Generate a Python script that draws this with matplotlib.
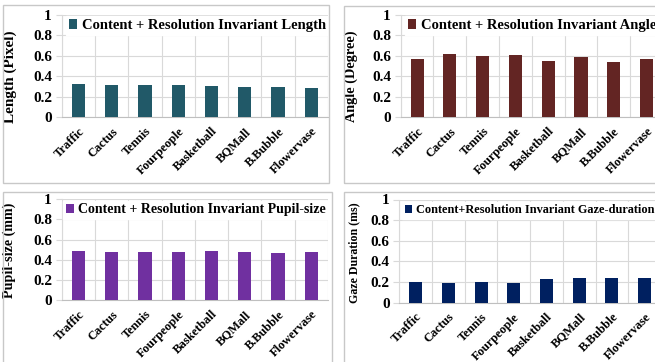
import matplotlib
matplotlib.use("Agg")
import matplotlib.pyplot as plt
from matplotlib.patches import Rectangle

videos = ["Traffic", "Cactus", "Tennis", "Fourpeople", "Basketball", "BQMall", "B.Bubble", "Flowervase"]
length_px = [0.323, 0.31, 0.317, 0.31, 0.304, 0.29, 0.29, 0.28]
angle_deg = [0.569, 0.614, 0.598, 0.605, 0.549, 0.591, 0.539, 0.572]
pupil_mm = [0.489, 0.48, 0.477, 0.48, 0.49, 0.48, 0.47, 0.477]
gaze_ms = [0.205, 0.195, 0.205, 0.195, 0.232, 0.238, 0.241, 0.241]

W, H = 655, 362
plt.rcParams["font.family"] = ["Liberation Serif", "DejaVu Serif"]
plt.rcParams["font.weight"] = "bold"
fig = plt.figure(figsize=(W / 100, H / 100), dpi=100)

def px_box(x0, y0, x1, y1):
    # pixel box (top-left origin) -> figure fraction rect
    return [x0 / W, 1 - y1 / H, (x1 - x0) / W, (y1 - y0) / H]

# panel borders
for x0, y0, x1, y1 in [(3, 5, 329, 183), (344, 6, 700, 183), (3, 192, 332, 400), (344, 192, 700, 400)]:
    fig.patches.append(Rectangle((x0 / W, 1 - y1 / H), (x1 - x0) / W, (y1 - y0) / H,
                                 transform=fig.transFigure, fill=False,
                                 edgecolor="#C8C8C8", lw=1.0))

# rect, values, colour, y label, legend, legend size, label size, label x, label y, legend x
panels = [
    (px_box(61.7, 15, 328, 117), length_px, "#215968", "Length (Pixel)",
     "Content + Resolution Invariant Length", 10.5, 11, -0.168, 0.39, 0.015),
    (px_box(400.7, 15, 663, 117), angle_deg, "#632523", "Angle (Degree)",
     "Content + Resolution Invariant Angle", 10.5, 10.3, -0.163, 0.40, 0.015),
    (px_box(61.7, 199.3, 328, 300), pupil_mm, "#7030A0", "Pupil-size (mm)",
     "Content + Resolution Invariant Pupil-size", 10.0, 10.2, -0.172, 0.49, 0.005),
    (px_box(399.3, 199.5, 661, 302.7), gaze_ms, "#002060", "Gaze Duration (ms)",
     "Content+Resolution Invariant Gaze-duration", 8.8, 8.6, -0.15, 0.48, 0.012),
]

grid_c = "#D9D9D9"
for rect, vals, color, ylab, leg, legfs, labfs, lab_x, lab_y, leg_x in panels:
    ax = fig.add_axes(rect)
    x = range(len(videos))
    ax.bar(x, vals, width=0.4, color=color, label=leg, zorder=3)
    ax.set_xlim(-0.5, len(videos) - 0.5)
    ax.set_ylim(0, 1)
    ax.set_yticks([0, 0.2, 0.4, 0.6, 0.8, 1])
    ax.set_yticklabels(["0", "0.2", "0.4", "0.6", "0.8", "1"], fontsize=11, fontweight="bold")
    ax.set_xticks(list(x))
    ax.set_xticklabels(videos, rotation=45, ha="right", va="top", rotation_mode="anchor",
                       fontsize=9, fontweight="bold")
    ax.set_xticks([i - 0.5 for i in range(len(videos) + 1)], minor=True)
    ax.grid(True, axis="y", color=grid_c, lw=0.8, zorder=0)
    ax.grid(True, axis="x", which="minor", color=grid_c, lw=0.8, zorder=0)
    ax.grid(False, axis="x", which="major")
    for s in ["top", "right"]:
        ax.spines[s].set_visible(False)
    ax.spines["left"].set_color(grid_c)
    ax.spines["bottom"].set_color("#BFBFBF")
    ax.tick_params(axis="y", length=4, color=grid_c, pad=3)
    ax.tick_params(axis="x", which="major", length=0, pad=6)
    ax.tick_params(axis="x", which="minor", length=0)
    ax.set_ylabel(ylab, fontsize=labfs, fontweight="bold")
    ax.yaxis.set_label_coords(lab_x, lab_y)
    lg = ax.legend(loc="center left", bbox_to_anchor=(leg_x, 0.895), fontsize=legfs,
                   frameon=True, fancybox=False, edgecolor="white", facecolor="white",
                   framealpha=1, borderpad=0.2, handlelength=0.6, handleheight=0.6,
                   handletextpad=0.3, borderaxespad=0)
    lg.set_zorder(5)
    for t in lg.get_texts():
        t.set_fontweight("bold")

fig.savefig("out.png", dpi=100)
